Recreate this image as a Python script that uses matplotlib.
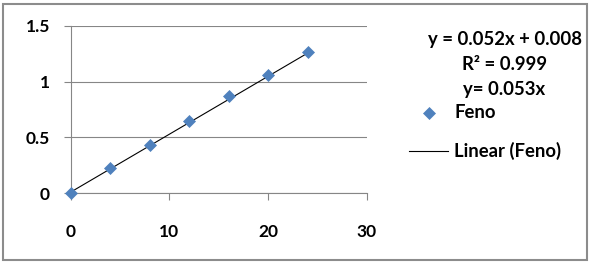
import matplotlib
matplotlib.use("Agg")
import matplotlib.pyplot as plt
from matplotlib.patches import Rectangle
from matplotlib.lines import Line2D
import numpy as np

x_vals = [0, 4, 8, 12, 16, 20, 24]
y_vals = [0.0, 0.222, 0.431, 0.65, 0.869, 1.057, 1.27]
fit_slope = 0.052
fit_intercept = 0.008
eq_lines = ["y = 0.052x + 0.008", "R\u00b2 = 0.999", "y= 0.053x"]
series_name = "Feno"
trend_name = "Linear (Feno)"
xticks = [0, 10, 20, 30]
yticks = [0, 0.5, 1, 1.5]
ytick_labels = ["0", "0.5", "1", "1.5"]

plt.rcParams['font.family'] = ['Lato', 'DejaVu Sans']
W, H = 591, 264
fig = plt.figure(figsize=(W/100, H/100), dpi=100)
fig.patch.set_facecolor('white')
fig.add_artist(Rectangle((3/W, 4/H), 584/W, 256/H, transform=fig.transFigure,
                         fill=False, edgecolor='#8c8c8c', linewidth=1.5))

ax = fig.add_axes([70.7/W, 1-193/H, (366.7-70.7)/W, (193-26)/H])
grey = '#868686'
ax.set_xlim(0, 30)
ax.set_ylim(0, 1.5)
ax.set_xticks(xticks)
ax.set_yticks(yticks)
ax.set_yticklabels(ytick_labels)
ax.grid(axis='y', color=grey, linewidth=0.8)
ax.set_axisbelow(True)
for s in ['top', 'right']:
    ax.spines[s].set_visible(False)
for s in ['left', 'bottom']:
    ax.spines[s].set_color(grey)
    ax.spines[s].set_linewidth(0.8)
ax.tick_params(axis='both', direction='out', length=5, color=grey, width=0.8,
               labelsize=12.5, labelcolor='black')
ax.tick_params(axis='x', pad=17)
ax.tick_params(axis='y', pad=10)
for lab in ax.get_xticklabels() + ax.get_yticklabels():
    lab.set_fontweight('bold')

xs = np.array(x_vals)
ax.plot(xs, xs*fit_slope + fit_intercept, color='black', linewidth=0.8, zorder=3)
ax.plot(x_vals, y_vals, linestyle='none', marker='D', markersize=6,
        color='#4F81BD', markeredgecolor='#4F81BD', markeredgewidth=0.5,
        zorder=4, clip_on=False)

tx = 504.5/W
for i, t in enumerate(eq_lines):
    fig.text(tx, 1-(40 + i*24.5)/H, t, ha='center', va='center', fontsize=13.3,
             fontweight='bold')

fig.add_artist(Line2D([429.3/W], [1-113/H], marker='D', markersize=6,
                      color='#4F81BD', markeredgewidth=0.5,
                      transform=fig.transFigure, linestyle='none'))
fig.text(454.5/W, 1-113/H, series_name, ha='left', va='center', fontsize=13.3,
         fontweight='bold')
fig.add_artist(Line2D([409/W, 448/W], [1-151/H, 1-151/H], color='black',
                      linewidth=0.8, transform=fig.transFigure))
fig.text(454.5/W, 1-151/H, trend_name, ha='left', va='center', fontsize=13.3,
         fontweight='bold')

fig.savefig('out.png', dpi=100)
